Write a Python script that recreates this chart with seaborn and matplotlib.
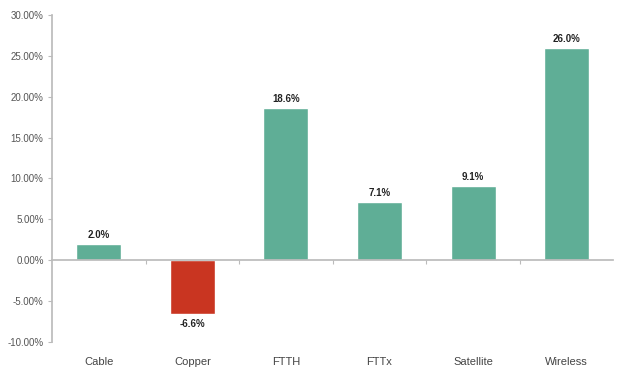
import matplotlib
matplotlib.use("Agg")
import matplotlib.pyplot as plt
import matplotlib.ticker as mticker
import seaborn as sns
import pandas as pd

# Chart data
categories = ["Cable", "Copper", "FTTH", "FTTx", "Satellite", "Wireless"]
growth = [2.0, -6.6, 18.6, 7.1, 9.1, 26.0]
y_ticks = [-10, -5, 0, 5, 10, 15, 20, 25, 30]

green = "#5fae96"
red = "#c93521"
colors = [red if v < 0 else green for v in growth]

df = pd.DataFrame({"cat": categories, "val": growth})

sns.set_theme(style="white")
plt.rcParams["font.family"] = ["Liberation Sans", "DejaVu Sans"]

fig = plt.figure(figsize=(6.19, 3.72), dpi=100)
ax = fig.add_axes([0.084, 0.081, 0.907, 0.879])

sns.barplot(data=df, x="cat", y="val", hue="cat", palette=colors,
            legend=False, width=0.48, saturation=1, ax=ax)

ax.set_ylim(-10, 30)
ax.set_xlim(-0.5, len(categories) - 0.5)
ax.set_yticks(y_ticks)
ax.yaxis.set_major_formatter(mticker.FuncFormatter(lambda v, p: f"{v:.2f}%"))
ax.tick_params(axis="y", labelsize=7, labelcolor="#555555", length=3, width=0.8,
               direction="out", left=True, pad=3, color="#bbbbbb")

# zero line with tick marks between categories
ax.spines["bottom"].set_position(("data", 0))
ax.spines["bottom"].set_color("#bbbbbb")
ax.spines["left"].set_color("#bbbbbb")
ax.spines["top"].set_visible(False)
ax.spines["right"].set_visible(False)
ax.set_xticks(range(len(categories)))
ax.set_xticklabels([])
ax.tick_params(axis="x", which="major", length=0)
ax.set_xticks([i + 0.5 for i in range(len(categories) - 1)], minor=True)
ax.tick_params(axis="x", which="minor", length=3, width=0.8, color="#bbbbbb",
               direction="out", bottom=True)

for i, c in enumerate(categories):
    ax.text(i, -0.045, c, transform=ax.get_xaxis_transform(), ha="center",
            va="top", fontsize=8, color="#444444")

for i, v in enumerate(growth):
    off = 0.45 if v >= 0 else -0.6
    ax.text(i, v + off, f"{v:.1f}%", ha="center", va="bottom" if v >= 0 else "top",
            fontsize=7, fontweight="bold", color="#222222")

ax.set_xlabel("")
ax.set_ylabel("")

fig.savefig("out.png", dpi=100)
